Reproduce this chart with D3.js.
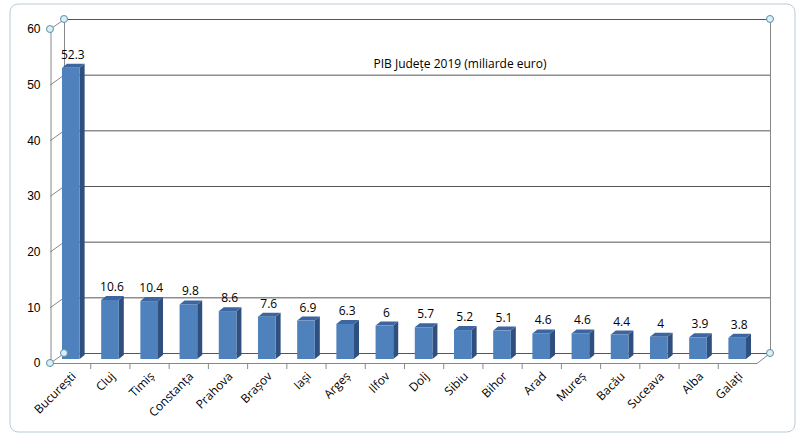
<!DOCTYPE html>
<html><head><meta charset="utf-8">
<script src="https://cdn.jsdelivr.net/npm/d3@7"></script>
<style>body{margin:0;background:#fff}svg{font-family:"Open Sans","DejaVu Sans",sans-serif}</style>
</head><body><svg id="c" width="800" height="438"></svg>
<script>
const counties = ["București","Cluj","Timiș","Constanța","Prahova","Brașov","Iași","Argeș","Ilfov","Dolj","Sibiu","Bihor","Arad","Mureș","Bacău","Suceava","Alba","Galați"];
const gdp = [52.3,10.6,10.4,9.8,8.6,7.6,6.9,6.3,6,5.7,5.2,5.1,4.6,4.6,4.4,4,3.9,3.8];
const yTicks = [0,10,20,30,40,50,60];
const title = "PIB Județe 2019 (miliarde euro)";

const svg = d3.select("#c");
const dx = 14, dy = -10;
const x = d3.scaleBand().domain(counties).range([51, 757]).paddingInner(0.55).paddingOuter(0.28);
const xb = d3.scaleBand().domain(counties).range([51, 757]);
const y = d3.scaleLinear().domain([0, 60]).range([363, 29]);

svg.append("rect").attr("x",10).attr("y",4).attr("width",785).attr("height",428).attr("rx",8)
  .attr("fill","#fff").attr("stroke","#b9cbd6");

// back wall gridlines
const grid = svg.append("g").attr("stroke","#555").attr("stroke-width",1);
yTicks.forEach(t => {
  grid.append("line").attr("x1",50+dx).attr("x2",770).attr("y1",y(t)+dy+0.5).attr("y2",y(t)+dy+0.5);
  grid.append("line").attr("x1",50).attr("y1",y(t)+0.5).attr("x2",50+dx).attr("y2",y(t)+dy+0.5).attr("stroke","#888");
});
svg.append("line").attr("x1",770.5).attr("x2",770.5).attr("y1",y(60)+dy).attr("y2",y(0)+dy).attr("stroke","#888");
svg.append("line").attr("x1",64.5).attr("x2",64.5).attr("y1",y(60)+dy).attr("y2",y(0)+dy).attr("stroke","#888");

// y axis
const yAxis = d3.axisLeft(y).tickValues(yTicks).tickSize(0).tickPadding(10);
svg.append("g").attr("transform","translate(50.5,0)").call(yAxis)
  .call(g => g.select(".domain").attr("stroke","#888"))
  .call(g => g.selectAll("text").attr("font-size",12).attr("fill","#000"));

// floor front edge + right edge
svg.append("line").attr("x1",50).attr("x2",757).attr("y1",363.5).attr("y2",363.5).attr("stroke","#888");
svg.append("line").attr("x1",757).attr("x2",770).attr("y1",363.5).attr("y2",353.5).attr("stroke","#888");

// x ticks & labels
const xAxis = d3.axisBottom(xb).tickSize(0).tickFormat("");
xb.domain().forEach((c,i) => {
  const tx = xb(c) + xb.bandwidth();
  if (i < counties.length-1) svg.append("line").attr("x1",tx+0.5).attr("x2",tx+0.5).attr("y1",363).attr("y2",369).attr("stroke","#888");
});
svg.append("g").selectAll("text").data(counties).join("text")
  .attr("transform", d => `translate(${xb(d)+xb.bandwidth()/2+6},${377}) rotate(-45)`)
  .attr("text-anchor","end").attr("font-size",12).text(d => d);

// bars (3D look)
const bw = x.bandwidth(), sd = 5, td = 4;
const bars = svg.append("g").selectAll("g").data(counties.map((c,i)=>({c,v:gdp[i]}))).join("g");
const base = 359;
bars.each(function(d){
  const g = d3.select(this);
  const x0 = x(d.c), yt = y(d.v) - 4;
  g.append("path").attr("fill","#2f4f7f")
    .attr("d",`M${x0+bw},${yt} L${x0+bw+sd},${yt-td} L${x0+bw+sd},${base-td} L${x0+bw},${base} Z`);
  g.append("path").attr("fill","#3d65a0")
    .attr("d",`M${x0},${yt} L${x0+sd},${yt-td} L${x0+bw+sd},${yt-td} L${x0+bw},${yt} Z`);
  g.append("rect").attr("x",x0).attr("y",yt).attr("width",bw).attr("height",base-yt).attr("fill","#4f81bd");
  g.append("text").attr("x",x0+bw/2+2).attr("y",yt-9).attr("text-anchor","middle").attr("font-size",12).text(d.v);
});

svg.append("text").attr("x",460).attr("y",68).attr("text-anchor","middle").attr("font-size",12).text(title);

// handles
[[50,29],[64,19],[770,19],[50,363],[64,353],[770,353]].forEach(([a,b]) =>
  svg.append("circle").attr("cx",a).attr("cy",b).attr("r",3.5).attr("fill","#dbeef6").attr("stroke","#5a8fa8"));
</script></body></html>
